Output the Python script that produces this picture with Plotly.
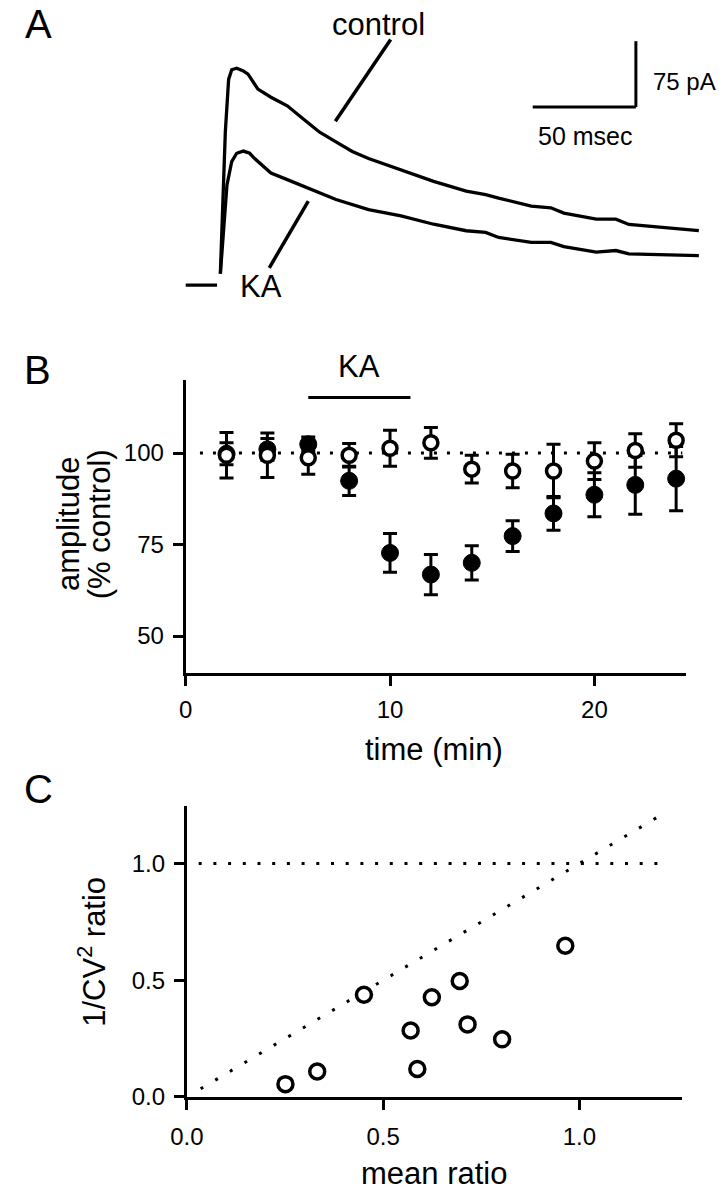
import plotly.graph_objects as go

W, H = 722, 1200
FONT = "Liberation Sans, Arial, sans-serif"

# ---------------- Panel A: example EPSC traces (ms, pA) ----------------
baseline_t = [-16.2, -1.0]
baseline_pA = [0.0, 0.0]

control_t = [0.6, 1.4, 3.0, 4.6, 6.1, 8.5, 11.7, 14.0, 18.8, 25.1, 33.0, 40.8, 48.7,
             56.6, 64.5, 72.4, 88.1, 103.9, 119.7, 129.1, 135.4, 151.2, 160.7, 167.0,
             182.7, 192.2, 198.5, 215.8, 232.4]
control_pA = [13, 62, 174, 234, 245, 246.7, 243.7, 240, 223, 213.7, 204, 189, 174,
              163, 152, 144, 131, 118, 107, 103, 99, 90, 88, 82,
              75, 75, 69, 65.6, 62]

ka_t = [0.6, 2.2, 3.8, 6.1, 8.5, 11.7, 14.8, 17.2, 25.1, 33.0, 40.8, 48.7, 56.6,
        72.4, 88.1, 103.9, 119.7, 129.1, 135.4, 151.2, 160.7, 167.0, 182.7, 192.2,
        198.5, 232.4]
ka_pA = [13, 62, 114, 140.6, 150, 152.5, 150, 144, 127.5, 120, 112.5, 105, 97.4,
         86, 78.7, 69.3, 61.9, 60, 54.3, 48.7, 48.7, 43.9, 37.5, 39.4,
         35.5, 33.7]

scale_ms = 50
scale_pA = 75

# ---------------- Panel B: amplitude time course ----------------
time_min = [2, 4, 6, 8, 10, 12, 14, 16, 18, 20, 22, 24]
ka_amp = [99.8, 101.0, 102.4, 92.4, 72.7, 66.8, 70.0, 77.3, 83.5, 88.6, 91.3, 93.0]
ka_sem = [3.0, 3.0, 2.0, 4.0, 5.3, 5.5, 4.7, 4.2, 4.6, 6.0, 8.0, 8.8]
ctl_amp = [99.4, 99.4, 98.7, 99.4, 101.3, 102.8, 95.6, 95.1, 95.1, 97.8, 100.7, 103.5]
ctl_sem = [6.2, 6.1, 4.5, 3.2, 4.9, 4.2, 3.8, 4.6, 7.3, 5.0, 4.6, 4.5]
ka_period = [6, 11]
ref_time = [0.7, 24.3]
ref_amp = [100, 100]

# ---------------- Panel C: 1/CV^2 vs mean ----------------
mean_ratio = [0.251, 0.332, 0.451, 0.570, 0.587, 0.624, 0.695, 0.715, 0.803, 0.964]
inv_cv2_ratio = [0.055, 0.109, 0.438, 0.285, 0.120, 0.427, 0.497, 0.311, 0.247, 0.648]
unity_x = [0.035, 1.215]
unity_y = [0.035, 1.215]
one_x = [0.03, 1.215]
one_y = [1.0, 1.0]


def pxx(x):
    return x / W


def pxy(y):
    return 1 - y / H


fig = go.Figure()

# Panel A
trace_style = dict(color="black", width=3.3)
fig.add_trace(go.Scatter(x=baseline_t, y=baseline_pA, mode="lines", line=trace_style,
                         xaxis="x", yaxis="y", hoverinfo="skip"))
fig.add_trace(go.Scatter(x=control_t, y=control_pA, mode="lines", line=trace_style,
                         xaxis="x", yaxis="y", name="control"))
fig.add_trace(go.Scatter(x=ka_t, y=ka_pA, mode="lines", line=trace_style,
                         xaxis="x", yaxis="y", name="KA"))

# Panel B
fig.add_trace(go.Scatter(x=ref_time, y=ref_amp, mode="lines",
                         line=dict(color="black", width=3, dash="3px,10px"),
                         xaxis="x2", yaxis="y2", hoverinfo="skip"))
fig.add_trace(go.Scatter(x=time_min, y=ka_amp, mode="markers",
                         marker=dict(symbol="circle", size=17, color="black",
                                     line=dict(color="black", width=1)),
                         error_y=dict(type="data", array=ka_sem, color="black",
                                      thickness=3, width=7),
                         xaxis="x2", yaxis="y2", name="KA"))
fig.add_trace(go.Scatter(x=time_min, y=ctl_amp, mode="markers",
                         marker=dict(symbol="circle", size=14, color="white",
                                     line=dict(color="black", width=3.5)),
                         error_y=dict(type="data", array=ctl_sem, color="black",
                                      thickness=3, width=7),
                         xaxis="x2", yaxis="y2", name="control"))

# Panel C
fig.add_trace(go.Scatter(x=one_x, y=one_y, mode="lines",
                         line=dict(color="black", width=3, dash="3px,11.7px"),
                         xaxis="x3", yaxis="y3", hoverinfo="skip"))
fig.add_trace(go.Scatter(x=unity_x, y=unity_y, mode="lines",
                         line=dict(color="black", width=3, dash="3px,14px"),
                         xaxis="x3", yaxis="y3", hoverinfo="skip"))
fig.add_trace(go.Scatter(x=mean_ratio, y=inv_cv2_ratio, mode="markers",
                         marker=dict(symbol="circle", size=15, color="white",
                                     line=dict(color="black", width=3.5)),
                         xaxis="x3", yaxis="y3"))

# ---------- axes ----------
# Panel A: invisible axes; 2.114 px per ms, 0.889 px per pA
A_onset_px, A_ms_px = 207.0, 2.114
A_base_px, A_pA_px = 288.3, 0.889
A_top_px = 320.0
xa_range = [(0 - A_onset_px) / A_ms_px, (W - A_onset_px) / A_ms_px]
ya_range = [(A_base_px - A_top_px) / A_pA_px, (A_base_px - 0) / A_pA_px]

axis_common = dict(showgrid=False, zeroline=False, showline=True, linecolor="black",
                   linewidth=3, ticks="outside", ticklen=10, tickwidth=3,
                   tickcolor="black",
                   tickfont=dict(family=FONT, size=24, color="black"))

B_left, B_right, B_top, B_bot = 172.7, 685.5, 384.0, 680.0
C_left, C_right, C_top, C_bot = 174.0, 681.0, 815.0, 1109.0

fig.update_layout(
    width=W, height=H, autosize=False,
    margin=dict(l=0, r=0, t=0, b=0),
    paper_bgcolor="white", plot_bgcolor="white",
    showlegend=False,
    xaxis=dict(domain=[0, 1], range=xa_range, visible=False, fixedrange=True),
    yaxis=dict(domain=[pxy(A_top_px), 1], range=ya_range, visible=False, fixedrange=True),
    xaxis2=dict(domain=[pxx(B_left), pxx(B_right)], range=[0, 24.5], anchor="y2",
                tickvals=[0, 10, 20], ticklabelstandoff=4, **axis_common),
    yaxis2=dict(domain=[pxy(B_bot), pxy(B_top)], range=[40, 120], anchor="x2",
                tickvals=[50, 75, 100], ticklabelstandoff=4, **axis_common),
    xaxis3=dict(domain=[pxx(C_left), pxx(C_right)], range=[0, (C_right - C_left) / 402.0],
                anchor="y3", tickvals=[0, 0.5, 1.0], ticktext=["0.0", "0.5", "1.0"],
                ticklabelstandoff=6, **axis_common),
    yaxis3=dict(domain=[pxy(C_bot), pxy(C_top)], range=[0, (C_bot - C_top) / 236.0],
                anchor="x3", tickvals=[0, 0.5, 1.0], ticktext=["0.0", "0.5", "1.0"],
                ticklabelstandoff=4, **axis_common),
)

# ---------- shapes ----------
line_style = dict(color="black", width=3)
scale_end_t, scale_base_pA = 201.9, 202.5
fig.add_shape(type="line", xref="x", yref="y", x0=scale_end_t, x1=scale_end_t,
              y0=scale_base_pA, y1=scale_base_pA + scale_pA, line=line_style)
fig.add_shape(type="line", xref="x", yref="y", x0=scale_end_t - scale_ms, x1=scale_end_t,
              y0=scale_base_pA, y1=scale_base_pA, line=line_style)
# pointer lines
fig.add_shape(type="line", xref="x", yref="y", x0=83.1, y0=279.4, x1=56.3, y1=186.3,
              line=dict(color="black", width=3.5))
fig.add_shape(type="line", xref="x", yref="y", x0=43.2, y0=95.6, x1=24.3, y1=19.8,
              line=dict(color="black", width=3.5))
# KA application bar
fig.add_shape(type="line", xref="x2", yref="y2", x0=ka_period[0], x1=ka_period[1],
              y0=115.2, y1=115.2, line=line_style)


def label(text, x, y, size, angle=0, anchor="center"):
    fig.add_annotation(text=text, x=pxx(x), y=pxy(y), xref="paper", yref="paper",
                       xanchor=anchor, yanchor="middle", showarrow=False,
                       textangle=angle, font=dict(family=FONT, size=size, color="black"))


# panel letters
label("A", 22, 24, 40)
label("B", 21, 374, 40)
label("C", 22, 798, 40)
# panel A texts
label("control", 370, 25, 31)
label("KA", 250, 290, 31)
label("75 pA", 718, 82, 24, anchor="right")
label("50 msec", 582, 137, 25)
# panel B texts
label("KA", 350, 371, 31)
label("amplitude", 53, 530, 31, -90)
label("(% control)", 84, 530, 31, -90)
label("time (min)", 427, 758, 31)
# panel C texts
label("1/CV<sup>2</sup> ratio", 76, 962, 31, -90)
label("mean ratio", 427, 1186, 31)

# remove the browser's default 8px body margin so the figure sits at the page origin
fig.write_html("out.html",
               config={"displayModeBar": False, "staticPlot": True},
               post_script="document.body.style.margin='0';"
                           "document.body.style.overflow='hidden';")
